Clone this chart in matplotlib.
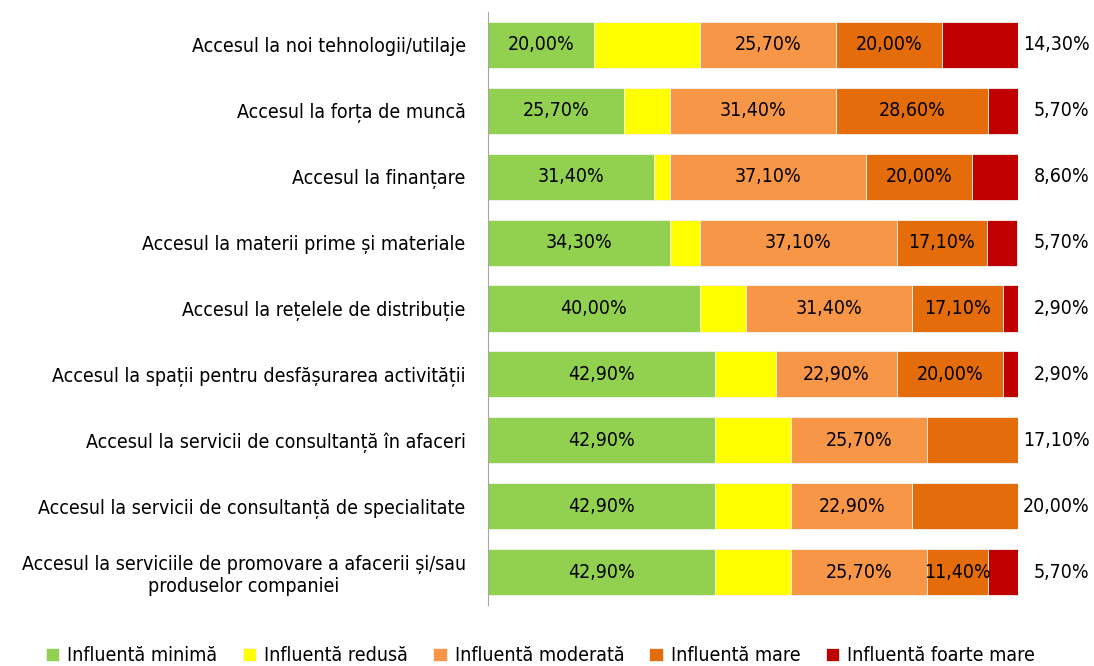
import matplotlib.pyplot as plt
import numpy as np

# Categories (top to bottom)
categories = [
    'Accesul la noi tehnologii/utilaje',
    'Accesul la forța de muncă',
    'Accesul la finanțare',
    'Accesul la materii prime și materiale',
    'Accesul la rețelele de distribuție',
    'Accesul la spații pentru desfășurarea activității',
    'Accesul la servicii de consultanță în afaceri',
    'Accesul la servicii de consultanță de specialitate',
    'Accesul la serviciile de promovare a afacerii și/sau\nproduselor companiei',
]

series_names = ['Influentă minimă', 'Influentă redusă', 'Influentă moderată',
                'Influentă mare', 'Influentă foarte mare']

minima = [20.0, 25.7, 31.4, 34.3, 40.0, 42.9, 42.9, 42.9, 42.9]
redusa = [20.0, 8.6, 2.9, 5.7, 8.6, 11.4, 14.3, 14.3, 14.3]
moderata = [25.7, 31.4, 37.1, 37.1, 31.4, 22.9, 25.7, 22.9, 25.7]
mare = [20.0, 28.6, 20.0, 17.1, 17.1, 20.0, 17.1, 20.0, 11.4]
foarte_mare = [14.3, 5.7, 8.6, 5.7, 2.9, 2.9, 0.0, 0.0, 5.7]

colors = ['#92D050', '#FFFF00', '#F79646', '#E46C0A', '#C00000']
show_label = [True, False, True, True, True]

plt.rcParams['font.family'] = ['DejaVu Sans']
plt.rcParams['font.stretch'] = 'condensed'

fig = plt.figure(figsize=(10.94, 6.66), dpi=100)
ax = fig.add_axes([0.446, 0.0916, 0.4845, 0.8904])

data = np.array([minima, redusa, moderata, mare, foarte_mare])
y = np.arange(len(categories))
left = np.zeros(len(categories))

for i, (name, vals) in enumerate(zip(series_names, data)):
    ax.barh(y, vals, left=left, height=0.7, color=colors[i],
            edgecolor='#f2f2f2', linewidth=0.6, label=name)
    left += vals

# data labels
for r in range(len(categories)):
    vals = data[:, r]
    last = max(i for i in range(5) if vals[i] > 0)
    start = 0.0
    for i in range(5):
        v = vals[i]
        txt = f'{v:.2f}%'.replace('.', ',')
        if v > 0 and i == last:
            ax.text(1.135, r, txt, transform=ax.get_yaxis_transform(),
                    ha='right', va='center', fontsize=14)
        elif v > 0 and show_label[i]:
            ax.text(start + v / 2, r, txt, ha='center', va='center', fontsize=14)
        start += v

ax.set_xlim(0, 100)
ax.set_ylim(len(categories) - 0.5, -0.5)
ax.set_yticks(y)
ax.set_yticklabels(categories, fontsize=14, ha='right', multialignment='center')
ax.tick_params(axis='y', length=0, pad=16)
ax.set_xticks([])
for s in ['top', 'right', 'bottom']:
    ax.spines[s].set_visible(False)
ax.spines['left'].set_color('#a6a6a6')

fig.legend(loc='lower center', ncol=5, bbox_to_anchor=(0.494, -0.025), frameon=False,
           prop={'size': 14, 'stretch': 'condensed'},
           handlelength=0.7, handleheight=0.7, handletextpad=0.4,
           columnspacing=1.3)

fig.savefig('out.png', dpi=100)
